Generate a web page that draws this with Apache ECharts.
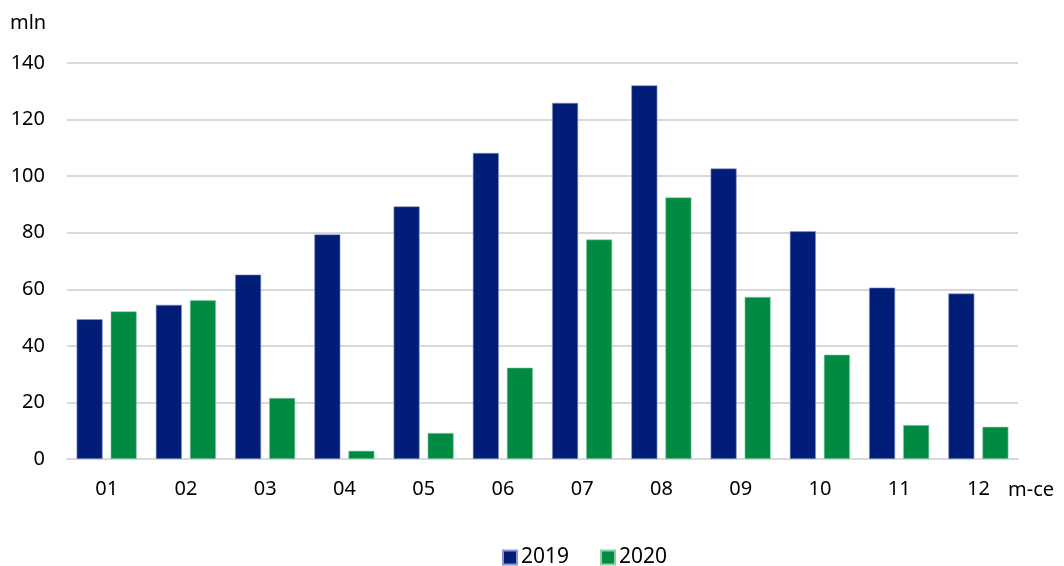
<!DOCTYPE html>
<html><head><meta charset="utf-8">
<script src="https://cdn.jsdelivr.net/npm/echarts@6/dist/echarts.min.js"></script>
<style>html,body{margin:0;padding:0;background:#fff}#c{width:1064px;height:566px}</style>
</head><body><div id="c"></div>
<script>
const categories = ['01','02','03','04','05','06','07','08','09','10','11','12'];
const values2019 = [49.4, 54.5, 65.2, 79.4, 89.3, 108.2, 125.9, 132.1, 102.7, 80.5, 60.6, 58.5];
const values2020 = [52.2, 56.1, 21.6, 2.9, 9.2, 32.3, 77.6, 92.5, 57.3, 36.9, 12.0, 11.4];
const seriesNames = ['2019', '2020'];
const yTicks = {min: 0, max: 140, interval: 20};

const font = 'Noto Sans';
const chart = echarts.init(document.getElementById('c'), null, {renderer: 'canvas'});
chart.setOption({
  animation: false,
  textStyle: {fontFamily: font},
  grid: {left: 67, right: 46, top: 63, bottom: 107, containLabel: false, outerBoundsMode: 'none'},
  legend: {
    bottom: -7, left: 497,
    itemWidth: 14, itemHeight: 14, itemGap: 31,
    icon: 'rect',
    textStyle: {fontFamily: font, fontSize: 21, color: '#000', padding: [0,0,0,-1]},
    data: seriesNames
  },
  xAxis: {
    type: 'category', data: categories,
    name: 'm-ce', nameLocation: 'end', nameGap: -10,
    nameTextStyle: {fontFamily: font, fontSize: 20, color: '#000', align: 'left', verticalAlign: 'top', padding: [21,0,0,0]},
    axisLine: {show: true, lineStyle: {color: '#d9d9d9', width: 2}},
    axisTick: {show: false},
    axisLabel: {fontFamily: font, fontSize: 20, color: '#000', margin: 20}
  },
  yAxis: {
    type: 'value', min: yTicks.min, max: yTicks.max, interval: yTicks.interval,
    name: 'mln', nameLocation: 'end', nameGap: 30,
    nameTextStyle: {fontFamily: font, fontSize: 20, color: '#000', align: 'left', padding: [0,0,0,-57]},
    axisLine: {show: false}, axisTick: {show: false},
    axisLabel: {fontFamily: font, fontSize: 20, color: '#000', margin: 22},
    splitLine: {lineStyle: {color: '#d9d9d9', width: 2}}
  },
  series: [
    {name: seriesNames[0], type: 'bar', data: values2019, barWidth: 26, barGap: '31%',
     itemStyle: {color: '#001e78', borderColor: '#8a96c4', borderWidth: 0.6}},
    {name: seriesNames[1], type: 'bar', data: values2020, barWidth: 26,
     itemStyle: {color: '#008a42', borderColor: '#8ccfa8', borderWidth: 0.6}}
  ]
});
</script></body></html>
